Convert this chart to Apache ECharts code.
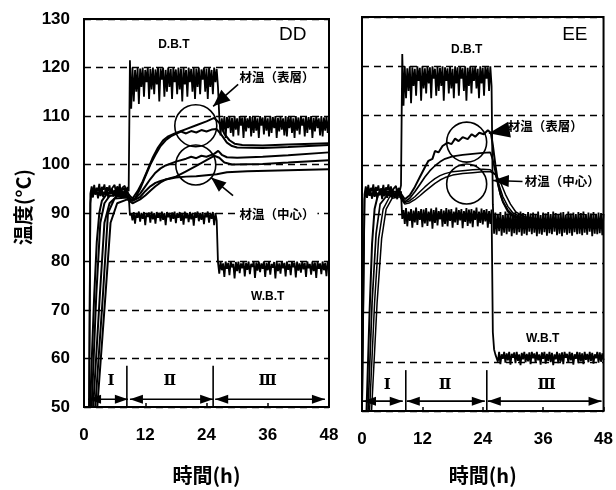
<!DOCTYPE html>
<html><head><meta charset="utf-8">
<script src="https://cdn.jsdelivr.net/npm/echarts@6/dist/echarts.min.js"></script>
<style>html,body{margin:0;padding:0;background:#fff}#c{width:616px;height:490px}</style>
</head><body><div id="c"></div>
<script>
// ---------------- DATA ----------------
const STEP = 0.25; // hours between samples of the recorded (noisy) air temperatures
const hourTicks = [0, 12, 24, 36, 48];
const tempTicks = [50, 60, 70, 80, 90, 100, 110, 120, 130];
const panelNames = ['DD', 'EE'];

// DD : dry bulb temperature (every 0.25 h from 0 h)
const dbtDD = [
 50,50,50,50,50,94,
 95.5,94.0,95.8,93.8,95.2,94.5,96.0,93.6,95.4,94.8,
 95.9,94.0,95.3,94.6,95.7,93.9,95.1,94.7,95.8,94.2,
 95.5,94.4,96.0,93.7,95.2,94.9,95.6,94.1,95.4,94.5,
 121.5,
 111.5,120.0,113.0,119.5,115.0,120.0,112.5,119.8,116.0,120.0,
 114.0,119.5,117.0,120.0,113.5,119.7,115.5,120.0,114.5,119.6,
 116.5,120.0,113.0,119.8,117.5,120.0,114.0,119.5,115.0,120.0,
 116.0,119.7,113.5,120.0,117.0,119.6,114.5,120.0,115.5,119.8,
 113.0,120.0,116.5,119.5,114.0,120.0,117.0,119.7,115.0,120.0,
 113.5,119.8,116.0,120.0,114.5,119.6,117.5,120.0,115.0,119.8,
 113.5,120.0,116.0,119.5,114.5,120.0,117.0,119.7,116.0,
 110.0,106.0,109.5,107.0,110.0,105.5,109.8,107.5,110.0,106.5,
 109.6,105.8,110.0,107.2,109.5,106.0,110.0,108.0,109.7,105.5,
 110.0,106.8,109.5,107.5,110.0,105.8,109.8,106.5,110.0,107.0,
 109.5,105.5,110.0,108.0,109.7,106.2,110.0,107.0,109.5,105.8,
 110.0,106.5,109.8,107.5,110.0,105.5,109.6,106.8,110.0,107.2,
 109.5,106.0,110.0,105.8,109.8,107.5,110.0,106.5,109.5,105.5,
 110.0,107.0,109.7,106.2,110.0,108.0,109.5,105.8,110.0,106.5,
 109.8,107.2,110.0,105.5,109.6,106.8,110.0,107.5,109.5,106.0,
 110.0,105.8,109.7,107.0,110.0,106.5,109.5
];
// DD : wet bulb temperature
const wbtDD = [
 50,50,50,50,50,92,
 94.5,93.2,95.0,93.8,94.6,93.0,94.8,93.5,95.0,93.3,
 94.4,93.7,94.9,93.1,94.6,93.9,95.0,93.4,94.7,93.2,
 94.5,93.8,94.9,93.0,94.6,93.6,95.0,93.3,94.4,93.7,
 89.5,
 90.0,88.5,90.2,87.8,90.0,89.0,90.3,88.2,90.0,88.8,
 90.2,87.5,90.0,89.2,90.1,88.0,90.3,88.7,90.0,87.8,
 90.2,89.0,90.0,88.3,90.3,88.6,90.0,87.5,90.2,89.1,
 90.0,88.2,90.1,88.8,90.3,87.9,90.0,89.0,90.2,88.4,
 90.0,87.6,90.3,88.9,90.0,88.1,90.2,88.7,90.0,87.4,
 90.1,89.0,90.3,88.3,90.0,88.6,90.2,87.7,90.0,89.1,
 90.3,88.0,90.0,88.8,90.2,87.5,90.0,88.4,
 79.8,77.5,80.0,78.2,79.6,76.8,80.0,78.5,79.7,77.2,
 80.0,78.8,79.5,76.5,79.9,78.0,80.0,77.6,79.6,78.6,
 80.0,76.9,79.7,78.3,80.0,77.4,79.5,78.9,80.0,76.6,
 79.8,78.1,80.0,77.8,79.6,78.5,80.0,76.8,79.7,78.2,
 80.0,77.3,79.5,78.7,79.9,76.5,80.0,78.0,79.6,77.5,
 80.0,78.6,79.7,76.9,80.0,78.3,79.5,77.2,80.0,78.8,
 79.8,76.7,80.0,78.1,79.6,77.7,80.0,78.4,79.7,76.8,
 80.0,78.6,79.5,77.3,80.0,78.0,79.8,76.6,80.0,78.5,
 79.6,77.4,80.0,78.2,79.7,77.0,80.0,78.3
];
// DD : wood temperatures [h, °C]
const surfDD1 = [[1.2,50],[1.6,62],[2.0,73],[2.5,84],[3.0,90],[3.5,92.5],[4.5,94],[6,94.5],[8,95],[9,93.5],[9.5,93],[10.5,94.5],[11.5,96.5],[12.5,99],[13.5,101.5],[14.5,103.5],[15.5,105],[16.5,105.8],[18,106.5],[20,107.3],[22,108.1],[24,108.9],[25.5,109.6],[26.5,108.6],[27.5,106.3],[28.5,105],[29.5,104.3],[31,104],[35,103.9],[40,104.1],[48,104.4]];
const surfDD2 = [[1.5,50],[2.4,73],[3.2,88],[4,92],[5,93.5],[8,94],[9,92.5],[10,93],[11,95],[12,97.5],[13,100],[14,102],[15,103.8],[16,105],[17,105.8],[18,106.3],[19,106.8],[20,106.4],[21,106.9],[22,106.6],[23,107.1],[24,106.8],[25,107.2],[26,107.3],[27,106],[28,104.5],[29,103.8],[30,103.5],[35,103.4],[40,103.6],[48,104]];
const coreDD1 = [[1.8,50],[3.1,73],[4.0,88],[5,92],[6.5,93.5],[8.5,93.5],[9.5,92.5],[11,94],[12,95.5],[13,97],[14,98.3],[15,99.2],[16,99.8],[18,100.6],[20,101.2],[21,101.6],[22,101.3],[23,101.8],[24,101.6],[25.5,102.2],[26.3,102.8],[27,102],[28,101.5],[30,101.4],[35,101.6],[40,101.9],[48,102.5]];
const coreDD2 = [[2.2,50],[3.7,73],[4.7,90],[6,93],[8.5,93.2],[9.5,92.5],[11,93.3],[12,94.5],[13,95.5],[14,96.2],[15,96.6],[16,96.9],[18,97.5],[20,98.6],[22,99.7],[24,100.9],[25.5,101.8],[26.5,101.4],[27.5,100.4],[29,100],[35,100.1],[40,100.4],[48,100.9]];
const coreDD3 = [[2.6,50],[4.2,73],[5.2,88],[6.5,92],[8.5,92.8],[9.5,92],[11,92.8],[12,93.6],[13,94.6],[14,95.5],[15,96.3],[16,96.9],[18,97.3],[20,97.5],[22,97.6],[24,97.8],[26,98],[28,98.4],[32,98.6],[40,98.8],[48,99]];

// EE : dry bulb temperature (every 0.25 h from 0 h)
const dbtEE = [
 50,50,94,
 95.6,94.0,95.9,93.8,95.3,94.6,96.0,93.7,95.5,94.7,
 95.8,94.1,95.2,94.5,95.9,93.9,95.4,94.8,96.0,94.2,
 95.6,94.3,95.1,94.9,95.7,94.0,95.3,94.6,95.8,
 122.5,
 112.0,120.0,113.5,119.6,115.0,120.0,112.5,119.8,116.0,119.5,
 114.0,120.0,117.0,119.7,113.0,120.0,115.5,119.6,114.5,120.0,
 116.5,119.8,113.5,120.0,117.5,119.5,114.0,120.0,115.0,119.7,
 116.0,120.0,113.0,119.8,117.0,119.6,114.5,120.0,115.5,119.5,
 113.5,120.0,116.5,119.8,114.0,120.0,117.5,119.6,115.0,120.0,
 113.0,119.7,116.0,120.0,114.5,119.8,117.0,120.0,115.5,119.5,
 113.5,120.0,116.5,119.7,114.0,120.0,117.5,119.8,115.0,120.0,
 116.0,
 92.0,86.0,90.3,85.8,90.0,86.5,90.4,85.6,89.8,86.2,
 90.5,85.9,90.1,86.4,90.3,85.5,90.0,86.1,90.4,85.8,
 89.9,86.3,90.5,85.6,90.2,86.0,90.0,85.7,90.4,86.4,
 90.1,85.9,90.3,86.2,90.0,85.5,90.5,86.0,89.8,85.8,
 90.3,86.3,90.1,85.6,90.4,86.1,90.0,85.9,90.5,86.4,
 90.2,85.7,90.0,86.0,90.3,85.5,90.4,86.2,89.9,85.8,
 90.5,86.1,90.1,85.6,90.3,86.3,90.0,85.9,90.4,86.0,
 90.2,85.7,90.5,86.2,90.0,85.8,90.3,86.4,90.1,85.5,
 90.4,86.0,90.0,85.9,90.3,86.1,90.2,85.7,90.0
];
// EE : wet bulb temperature
const wbtEE = [
 50,50,93,
 94.6,93.3,95.0,93.7,94.5,93.1,94.9,93.5,94.7,93.2,
 94.4,93.8,95.0,93.0,94.6,93.6,94.8,93.3,94.5,93.9,
 95.0,93.2,94.7,93.5,94.4,93.0,94.9,93.7,94.6,
 89,
 90.8,88.0,91.2,87.5,90.5,88.6,91.0,87.2,90.7,88.3,
 91.3,87.8,90.6,88.8,91.0,87.3,90.9,88.1,91.2,87.6,
 90.5,88.5,91.1,87.0,90.8,88.2,91.3,87.7,90.6,88.9,
 91.0,87.4,90.7,88.0,91.2,87.5,90.9,88.6,91.0,87.2,
 90.5,88.3,91.3,87.8,90.8,88.7,91.0,87.1,90.6,88.4,
 91.2,87.6,90.9,88.1,91.0,87.3,90.7,88.8,91.3,87.5,
 90.5,88.2,91.1,87.9,90.8,88.5,91.0,87.2,90.6,88.0,
 90.9,
 66,62.5,61.5,
 61.8,60.0,62.0,59.5,61.5,60.6,62.0,59.8,61.7,60.3,
 62.0,59.4,61.6,60.8,61.9,59.7,62.0,60.2,61.5,59.3,
 61.8,60.5,62.0,59.9,61.6,60.1,61.9,59.5,62.0,60.7,
 61.7,59.8,62.0,60.3,61.5,59.4,61.9,60.6,62.0,59.6,
 61.6,60.2,62.0,59.9,61.8,59.3,61.5,60.5,62.0,59.7,
 61.7,60.0,61.9,59.5,62.0,60.8,61.6,59.8,62.0,60.3,
 61.8,59.4,61.5,60.6,62.0,59.7,61.9,60.1,61.7,59.5,
 62.0,60.4,61.6,59.9,62.0,60.2,61.8,59.6,61.5,60.7,
 62.0,59.8,61.9,60.0,61.7,60.3
];
// EE : wood temperatures [h, °C]
const surfEE1 = [[0.9,50],[1.5,70],[2.0,84],[2.5,91],[3.2,94],[5,94.5],[7.5,94.5],[8.5,93],[9.5,93.8],[10.5,95.5],[11.5,97.5],[12.5,99.5],[13.2,100.8],[14,101.2],[14.5,102.8],[15.2,102.5],[16,103.8],[17,104.5],[17.8,104.2],[18.5,105.3],[19.2,104.8],[20,105.6],[21,105.2],[21.8,106.2],[22.5,105.7],[23.3,106.5],[24.2,106.2],[25,107],[25.6,106.5],[26,104],[26.5,100],[27,96.5],[27.5,94],[28,92.5],[29,90.5],[30,89.5],[32,88.8],[36,88.5],[48,88.3]];
const surfEE2 = [[1.2,50],[2,72],[2.8,86],[3.6,92],[5,93.8],[7.5,94],[8.5,92.5],[9.5,93.2],[10.5,94.5],[11.5,96],[12.5,97.5],[13.5,98.8],[14.5,99.8],[15.5,100.6],[16.5,101.2],[18,101.7],[20,102],[22,102.2],[24,102.4],[25.5,102.5],[26,101],[26.5,98.5],[27,96],[27.5,94],[28,92.5],[29,90.8],[30,89.8],[32,88.9],[36,88.4],[48,88.1]];
const coreEE1 = [[1.5,50],[2.5,72],[3.3,85],[4.2,91],[5.5,93.5],[7.5,93.8],[8.5,92.3],[9.5,92.7],[10.5,93.5],[11.5,94.5],[12.5,95.5],[13.5,96.4],[14.5,97.2],[15.5,97.8],[16.5,98.2],[18,98.6],[20,98.8],[22,99],[24,99.1],[25.5,99],[26.5,98],[27.2,96],[28,93.5],[29,91.5],[30,90.2],[32,89.2],[36,88.6],[48,88.4]];
const coreEE2 = [[1.9,50],[3,72],[3.9,85],[4.8,91],[6,93.2],[7.5,93.5],[8.5,92],[9.5,92.3],[10.5,92.9],[11.5,93.7],[12.5,94.6],[13.5,95.4],[14.5,96.2],[15.5,96.9],[16.5,97.4],[18,97.9],[20,98.2],[22,98.4],[24,98.6],[25.5,98.6],[26.5,98],[27.5,96.5],[28.5,94],[29.5,92],[30.5,90.5],[32,89.5],[36,88.8],[48,88.6]];

// ---------------- CHART ----------------
const chart = echarts.init(document.getElementById('c'), null, {renderer: 'canvas'});
const NUM_FONT = 'Liberation Sans';
const CJK_FONT = 'Noto Sans CJK JP';
const sampled = arr => arr.map((v, i) => [i * STEP, v]);
const mk = (g, data, w) => ({
  type: 'line', xAxisIndex: g, yAxisIndex: g, data: data, symbol: 'none', showSymbol: false,
  lineStyle: {color: '#000', width: w}, animation: false, silent: true
});

const xAxisBase = g => ({
  type: 'value', gridIndex: g, min: hourTicks[0], max: hourTicks[hourTicks.length - 1],
  interval: hourTicks[1] - hourTicks[0],
  axisLine: {show: false},
  axisTick: {show: true, inside: true, length: 4, lineStyle: {color: '#000', width: 1.5}},
  splitLine: {show: false},
  axisLabel: {color: '#000', fontFamily: NUM_FONT, fontWeight: 'bold', fontSize: 17, margin: 20},
  name: '時間(h)', nameLocation: 'middle', nameGap: g === 0 ? 58 : 54,
  nameTextStyle: {color: '#000', fontFamily: CJK_FONT, fontWeight: 'bold', fontSize: 20}
});
const yAxisBase = g => ({
  type: 'value', gridIndex: g, min: tempTicks[0], max: tempTicks[tempTicks.length - 1],
  interval: tempTicks[1] - tempTicks[0],
  axisLine: {show: false}, axisTick: {show: false},
  splitLine: {show: true, lineStyle: {color: '#000', width: 1.3, type: [7, 5]}},
  axisLabel: {show: g === 0, color: '#000', fontFamily: NUM_FONT, fontWeight: 'bold', fontSize: 17, margin: 14},
  name: g === 0 ? '温度(°C)' : '', nameLocation: 'middle', nameRotate: 90, nameGap: 51,
  nameTextStyle: {color: '#000', fontFamily: CJK_FONT, fontWeight: 'bold', fontSize: 20, padding: [0, 0, 0, 12]}
});

const option = {
  backgroundColor: '#fff',
  animation: false,
  grid: [
    {left: 84, top: 19, width: 245, height: 396, show: true, borderColor: '#000', borderWidth: 2, backgroundColor: 'transparent'},
    {left: 362, top: 17, width: 242, height: 396, show: true, borderColor: '#000', borderWidth: 2, backgroundColor: 'transparent'}
  ],
  xAxis: [xAxisBase(0), xAxisBase(1)],
  yAxis: [yAxisBase(0), yAxisBase(1)],
  series: [
    mk(0, sampled(dbtDD), 1.8), mk(0, sampled(wbtDD), 1.8),
    mk(0, surfDD1, 2), mk(0, surfDD2, 2), mk(0, coreDD1, 2), mk(0, coreDD2, 2), mk(0, coreDD3, 2),
    mk(1, sampled(dbtEE), 1.8), mk(1, sampled(wbtEE), 1.8),
    mk(1, surfEE1, 2), mk(1, surfEE2, 1.7), mk(1, coreEE1, 1.5), mk(1, coreEE2, 1.5)
  ]
};
chart.setOption(option);

// ---------------- ANNOTATIONS (placed in data coordinates) ----------------
const G = [];
const px = (g, t, v) => chart.convertToPixel({gridIndex: g}, [t, v]);
function addText(g, t, v, text, font, bg) {
  const p = px(g, t, v);
  G.push({type: 'text', x: p[0], y: p[1], z: 100,
    style: {text: text, font: font, fill: '#000', align: 'center', verticalAlign: 'middle',
      backgroundColor: bg || 'transparent', padding: bg ? [0, 3] : 0}});
}
function seg(a, b, w) {
  G.push({type: 'line', z: 100, shape: {x1: a[0], y1: a[1], x2: b[0], y2: b[1]}, style: {stroke: '#000', lineWidth: w}});
}
function head(tip, from, len, hw) {
  const dx = from[0] - tip[0], dy = from[1] - tip[1];
  const L = Math.hypot(dx, dy) || 1, ux = dx / L, uy = dy / L;
  const bx = tip[0] + ux * len, by = tip[1] + uy * len;
  G.push({type: 'polygon', z: 101, shape: {points: [tip, [bx - uy * hw, by + ux * hw], [bx + uy * hw, by - ux * hw]]}, style: {fill: '#000'}});
}
function addArrow(g, tail, tip, len, hw) {
  const a = px(g, tail[0], tail[1]), b = px(g, tip[0], tip[1]);
  seg(a, b, 1.6); head(b, a, len, hw);
}
function addDouble(g, t1, t2, v) {
  const a = px(g, t1, v), b = px(g, t2, v);
  seg(a, b, 1.6); head(a, b, 13, 4.5); head(b, a, 13, 4.5);
}
function addVLine(g, t, v1, v2) { seg(px(g, t, v1), px(g, t, v2), 1.6); }
function addCircle(g, t, v, r) {
  const p = px(g, t, v);
  G.push({type: 'circle', z: 100, shape: {cx: p[0], cy: p[1], r: r}, style: {fill: 'none', stroke: '#000', lineWidth: 1.6}});
}
const LBL = 'bold 12px "Liberation Sans"';
const CJK = 'bold 12.5px "' + CJK_FONT + '"';
const ROM = 'bold 15px "DejaVu Serif"';

// DD panel
addText(0, 40.9, 126.8, panelNames[0], '19px "Liberation Sans"');
addText(0, 17.6, 124.7, 'D.B.T', LBL);
addText(0, 36.0, 72.8, 'W.B.T', LBL);
addText(0, 37.8, 117.9, '材温（表層）', CJK, '#fff');
addText(0, 37.8, 89.8, '材温（中心）', CJK, '#fff');
addCircle(0, 21.9, 108.0, 21);
addCircle(0, 21.9, 99.9, 20);
addArrow(0, [30.2, 116.5], [25.3, 112.0], 17, 7);
addArrow(0, [29.2, 93.6], [24.9, 97.3], 15, 6);
addVLine(0, 8.4, 58.5, 50); addVLine(0, 25.3, 58.5, 50);
addDouble(0, 0.8, 8.6, 51.6); addDouble(0, 9.0, 25.3, 51.6); addDouble(0, 25.7, 47.2, 51.6);
addText(0, 5.3, 55.4, 'Ⅰ', ROM); addText(0, 16.8, 55.4, 'Ⅱ', ROM); addText(0, 36.0, 55.4, 'Ⅲ', ROM);

// EE panel
addText(1, 42.3, 126.4, panelNames[1], '19px "Liberation Sans"');
addText(1, 20.8, 123.3, 'D.B.T', LBL);
addText(1, 35.9, 64.7, 'W.B.T', LBL);
addText(1, 36.4, 107.8, '材温（表層）', CJK);
addText(1, 39.8, 96.7, '材温（中心）', CJK);
addCircle(1, 20.8, 104.6, 20);
addCircle(1, 20.8, 96.1, 20);
addArrow(1, [29.7, 107.2], [25.2, 106.4], 21, 8);
addArrow(1, [31.9, 96.6], [26.0, 96.8], 16, 6);
addVLine(1, 8.7, 58.3, 50); addVLine(1, 24.8, 58.3, 50);
addDouble(1, 0.2, 8.1, 52.0); addDouble(1, 8.9, 24.4, 52.0); addDouble(1, 25.0, 47.6, 52.0);
addText(1, 5.0, 55.3, 'Ⅰ', ROM); addText(1, 16.5, 55.3, 'Ⅱ', ROM); addText(1, 36.7, 55.3, 'Ⅲ', ROM);

chart.setOption({graphic: G});
</script>
</body></html>
